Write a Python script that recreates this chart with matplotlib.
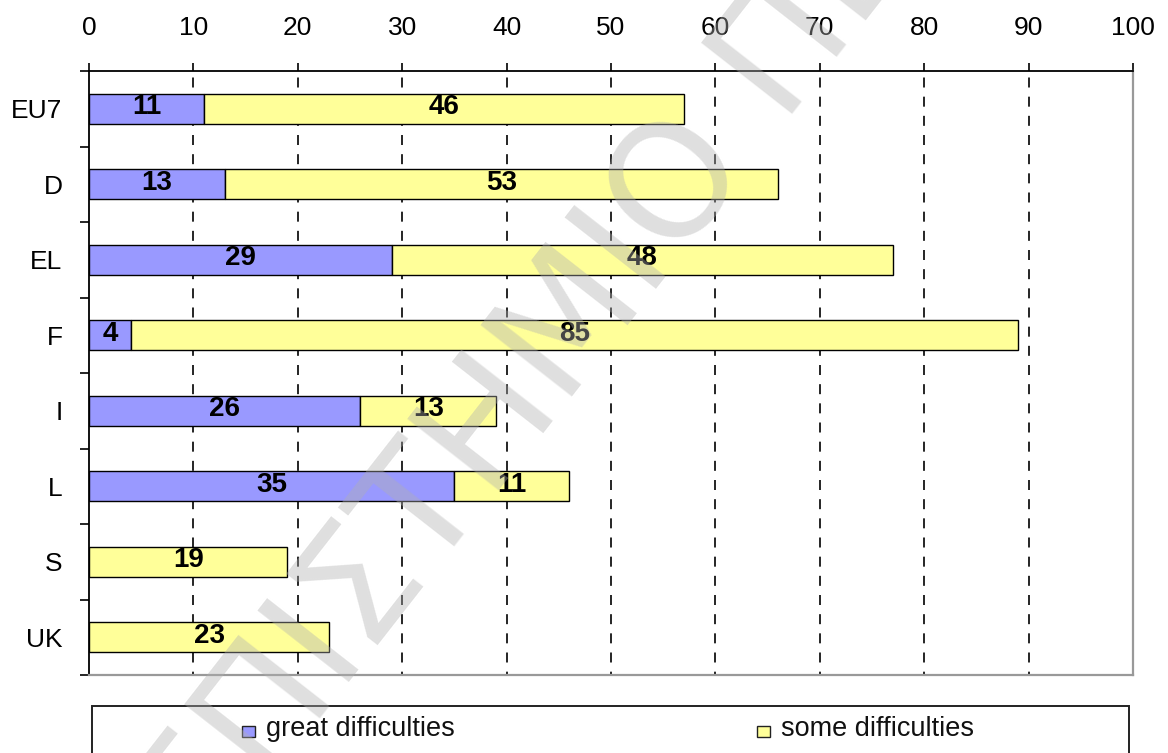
import matplotlib
matplotlib.use("Agg")
import matplotlib.pyplot as plt
from matplotlib.patches import Rectangle

# survey shares (%) by country
countries = ["EU7", "D", "EL", "F", "I", "L", "S", "UK"]
great = [11, 13, 29, 4, 26, 35, 0, 0]
some = [46, 53, 48, 85, 13, 11, 19, 23]
series_names = ["great difficulties", "some difficulties"]
series_colors = ["#9999FF", "#FFFF99"]
xticks = list(range(0, 101, 10))

plt.rcParams["font.family"] = ["Liberation Sans", "DejaVu Sans"]

fig = plt.figure(figsize=(11.68, 7.53), dpi=100)
ax = fig.add_axes([89 / 1168, 1 - 675 / 753, (1133 - 89) / 1168, (675 - 71) / 753])

ypos = list(range(len(countries)))
bar_h = 0.4
ax.barh(ypos, great, height=bar_h, color=series_colors[0],
        edgecolor="black", linewidth=1.0, zorder=3)
ax.barh(ypos, some, left=great, height=bar_h, color=series_colors[1],
        edgecolor="black", linewidth=1.0, zorder=3)

# value labels in the middle of each segment
for i in ypos:
    if great[i] > 0:
        ax.text(great[i] / 2, i - 0.02, str(great[i]), ha="center", va="center",
                fontsize=20, fontweight="bold", zorder=4)
    if some[i] > 0:
        ax.text(great[i] + some[i] / 2, i - 0.02, str(some[i]), ha="center",
                va="center", fontsize=20, fontweight="bold", zorder=4)

ax.set_xlim(0, 100)
ax.set_ylim(len(countries) - 0.5, -0.5)

# dashed vertical grid, skipping the two ends
ax.vlines(xticks[1:-1], 0, 1, transform=ax.get_xaxis_transform(),
          colors="black", linewidth=1.2, linestyles=(4, (6.0, 5.5)), zorder=1)

ax.xaxis.tick_top()
ax.set_xticks(xticks)
ax.tick_params(axis="x", direction="out", length=6, width=1.2, pad=16,
               labelsize=19, colors="black")
ax.set_yticks(ypos)
ax.set_yticklabels(countries)
ax.tick_params(axis="y", which="major", length=0, pad=19, labelsize=19)
ax.set_yticks([y - 0.5 for y in range(len(countries) + 1)], minor=True)
ax.tick_params(axis="y", which="minor", direction="out", length=6.5, width=1.2)

for side in ["top", "left"]:
    ax.spines[side].set_color("black")
    ax.spines[side].set_linewidth(1.3)
for side in ["right", "bottom"]:
    ax.spines[side].set_color("#999999")
    ax.spines[side].set_linewidth(1.6)

# legend box running off the bottom edge
fig.patches.append(Rectangle((92 / 1168, -0.05), (1129 - 92) / 1168, 0.05 + 1 - 706 / 753,
                             transform=fig.transFigure, fill=False,
                             edgecolor="#222222", linewidth=1.4))
legend_x = [242, 757]
for name, color, lx in zip(series_names, series_colors, legend_x):
    fig.patches.append(Rectangle((lx / 1168, 1 - 737 / 753), 13 / 1168, 11 / 753,
                                 transform=fig.transFigure, facecolor=color,
                                 edgecolor="#222222", linewidth=1.0))
    fig.text((lx + 24) / 1168, 1 - 729 / 753, name, ha="left", va="center",
             fontsize=19.5, color="#111111")

# diagonal watermark
fig.text(580 / 1168, 1 - 315 / 753, "ΠΑΝΕΠΙΣΤΗΜΙΟ ΠΕΙΡΑΙΩΣ", rotation=52,
         ha="center", va="center", rotation_mode="anchor", fontsize=114,
         color="#b0b0b0", alpha=0.4, zorder=10, family=["DejaVu Sans"])

fig.savefig("out.png", dpi=100)
